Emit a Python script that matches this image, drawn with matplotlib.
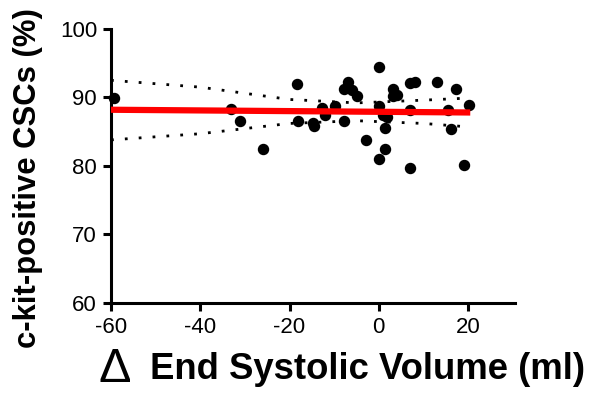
import numpy as np
import matplotlib.pyplot as plt

# data
esv = [-59.3, -33.0, -31.0, -26.0, -18.4, -18.0, -14.8, -14.5, -12.8, -12.0,
       -9.8, -7.9, -6.8, -7.9, -6.0, -4.9, 0.1, 0.1, 0.9, 1.8, 1.3, -2.8,
       1.3, 0.1, 3.2, 3.2, 4.1, 7.1, 8.2, 7.1, 7.1, 13.1, 15.4, 16.2, 17.3,
       20.3, 19.1]
csc = [89.9, 88.3, 86.6, 82.5, 92.0, 86.5, 86.2, 85.8, 88.4, 87.4,
       88.8, 86.5, 92.3, 91.2, 91.1, 90.2, 94.5, 88.7, 87.4, 87.2, 85.6, 83.8,
       82.4, 81.0, 91.2, 90.2, 90.4, 92.1, 92.3, 88.2, 79.7, 92.2, 88.2, 85.4, 91.2,
       88.9, 80.1]

fit_x = [-60, 20.5]
fit_y = [88.2, 87.8]

band_x = [-60, -40, -20, -5, 10, 20]
band_hi = [92.5, 91.5, 89.7, 89.2, 89.6, 89.9]
band_lo = [83.8, 84.7, 86.2, 86.6, 86.2, 85.7]

plt.rcParams['font.family'] = ['Liberation Sans', 'DejaVu Sans']

fig = plt.figure(figsize=(5.92, 3.96), dpi=100)
ax = fig.add_axes([0.1875, 0.235, 0.683, 0.692])

ax.plot(band_x, band_hi, color='black', ls=(0, (1, 4)), lw=2, zorder=1)
ax.plot(band_x, band_lo, color='black', ls=(0, (1, 4)), lw=2, zorder=1)
ax.scatter(esv, csc, s=52, color='black', zorder=2, clip_on=False)
ax.plot(fit_x, fit_y, color='#ff0000', lw=4.5, zorder=3, solid_capstyle='butt')

ax.set_xlim(-60, 30.6)
ax.set_ylim(60, 100)
ax.set_xticks([-60, -40, -20, 0, 20])
ax.set_yticks([60, 70, 80, 90, 100])
ax.set_xticklabels(['-60', '-40', '-20', '0', '20'])

for s in ['top', 'right']:
    ax.spines[s].set_visible(False)
for s in ['left', 'bottom']:
    ax.spines[s].set_linewidth(2.2)
ax.tick_params(width=2.2, length=6, labelsize=16, pad=4)

# axis titles placed by hand to match the original layout
fig.text(0.048, 0.55, 'c-kit-positive CSCs (%)', rotation=90, fontsize=22.3,
         fontweight='bold', ha='center', va='center')
fig.text(0.166, 0.068, '\u0394', fontsize=35, ha='left', va='center')
fig.text(0.988, 0.068, 'End Systolic Volume (ml)', fontsize=26.3,
         fontweight='bold', ha='right', va='center')

fig.savefig('out.png', dpi=100)
